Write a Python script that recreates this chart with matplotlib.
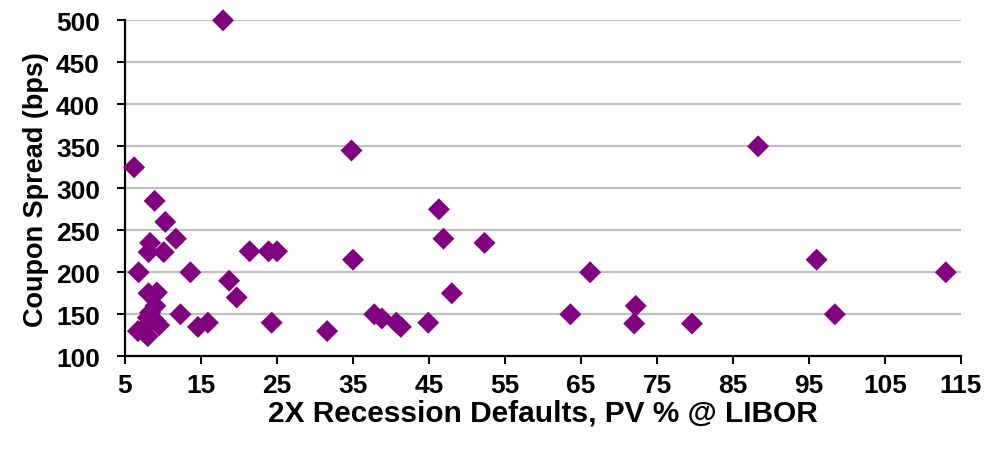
import matplotlib
matplotlib.use("Agg")
from matplotlib import pyplot as plt

plt.rcParams['font.family'] = ['Liberation Sans', 'DejaVu Sans']

# 2X recession defaults (PV % @ LIBOR) vs coupon spread (bps)
defaults = [17.9, 6.2, 8.9, 10.3, 11.7, 8.3, 8.1, 10.1, 6.8, 13.6,
            21.4, 23.9, 25.0, 18.7, 19.7, 8.1, 9.2, 9.0, 8.3, 9.0,
            9.5, 8.0, 6.7, 7.4, 8.0, 12.3, 14.6, 15.9, 24.3,
            34.8, 35.0, 31.6, 37.8, 38.8, 40.7, 41.3, 44.9,
            46.3, 46.9, 48.0, 52.3, 63.6, 66.2, 72.2, 72.0, 79.6,
            88.3, 96.0, 98.4, 113.0]
spread = [500, 325, 285, 260, 240, 235, 224, 224, 200, 200,
          225, 225, 225, 190, 170, 175, 176, 160, 152, 142,
          137, 146, 130, 133, 124, 150, 135, 140, 140,
          345, 215, 130, 150, 145, 140, 135, 140,
          275, 240, 175, 235, 150, 200, 160, 139, 139,
          350, 215, 150, 200]

xticks = list(range(5, 116, 10))
yticks = list(range(100, 501, 50))

fig = plt.figure(figsize=(9.88, 4.6), dpi=100)
ax = fig.add_axes([0.1265, 0.2233, 0.8462, 0.7304])

ax.scatter(defaults, spread, marker='D', s=125, color='#800080',
           edgecolors='none', zorder=3, clip_on=False)

ax.set_xlim(5, 115)
ax.set_ylim(100, 500)
ax.set_xticks(xticks)
ax.set_yticks(yticks)
ax.grid(axis='y', color='#c0c0c0', linewidth=1.6, zorder=0)
ax.set_axisbelow(True)
for s in ['top', 'right']:
    ax.spines[s].set_visible(False)
for s in ['left', 'bottom']:
    ax.spines[s].set_linewidth(1.6)
ax.tick_params(axis='both', length=6, width=1.4, labelsize=19)
ax.tick_params(axis='y', pad=12)
ax.tick_params(axis='x', pad=6)
for lbl in ax.get_xticklabels() + ax.get_yticklabels():
    lbl.set_fontweight('bold')

ax.set_xlabel("2X Recession Defaults, PV % @ LIBOR", fontsize=21.5,
              fontweight='bold', labelpad=1)
ax.set_ylabel("Coupon Spread (bps)", fontsize=19.5, fontweight='bold', labelpad=5)

fig.savefig('out.png', dpi=100)
